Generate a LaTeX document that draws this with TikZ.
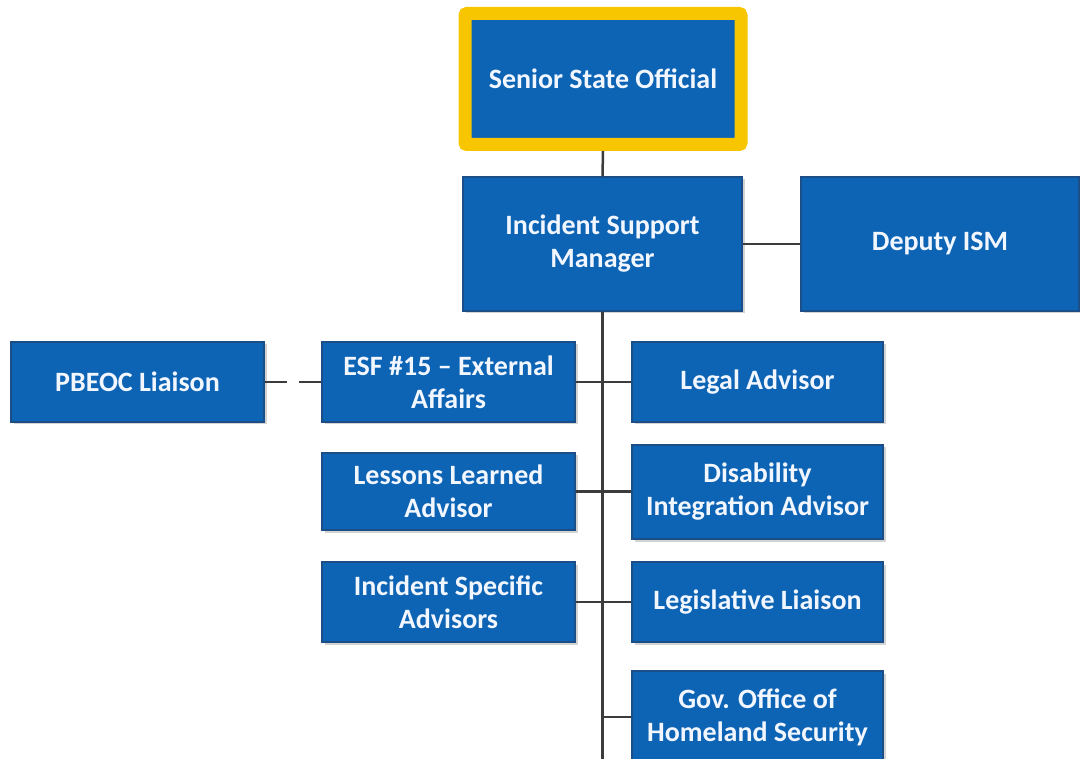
\documentclass[tikz,border=0pt]{standalone}
\usepackage{fontspec}
\setmainfont{Carlito}
\usetikzlibrary{shadows}

\definecolor{boxblue}{HTML}{0D63B4}
\definecolor{boxedge}{HTML}{1B4E86}
\definecolor{ssoyellow}{HTML}{F7C600}
\definecolor{linkgray}{HTML}{3C3C3C}
\definecolor{boxtext}{HTML}{F2F7FF}

\tikzset{
  orgbox/.style={draw=boxedge, line width=1.5pt, fill=boxblue, text=boxtext,
    font=\fontsize{28}{33}\selectfont\bfseries, align=center, inner sep=0pt,
    minimum width=253pt, minimum height=80pt,
    drop shadow={shadow xshift=2.5pt, shadow yshift=-2.5pt, opacity=0.35}},
  link/.style={draw=linkgray, line width=2.5pt},
}

\begin{document}
\begin{tikzpicture}[x=1pt, y=-1pt]
			\useasboundingbox (0,0) rectangle (1080,759);
			\clip (0,0) rectangle (1080,759);

			% top of the chart
			\node[orgbox, draw=ssoyellow, line width=13pt, rounded corners=2pt,
			  minimum width=276pt, minimum height=131pt] (sso) at (603,79) {Senior State Official};
			\node[orgbox, minimum width=279pt, minimum height=134pt] (ism) at (602.5,244) {Incident Support\\Manager};
			\node[orgbox, minimum width=278pt, minimum height=134pt] (dep) at (940,244) {Deputy ISM};

			% left column
			\node[orgbox] (pbeoc) at (137.5,382) {PBEOC Liaison};
			\node[orgbox] (esf) at (448.5,382) {ESF \#15 -- External\\Affairs};
			\node[orgbox, minimum height=77pt] (lessons) at (448.5,491.5) {Lessons Learned\\Advisor};
			\node[orgbox] (incspec) at (448.5,602) {Incident Specific\\Advisors};

			% right column
			\node[orgbox, minimum width=251pt] (legal) at (757.5,382) {Legal Advisor};
			\node[orgbox, minimum width=251pt, minimum height=94pt] (disab) at (757.5,492) {Disability\\Integration Advisor};
			\node[orgbox, minimum width=251pt] (legis) at (757.5,602) {Legislative Liaison};
			\node[orgbox, minimum width=251pt, minimum height=92pt] (gov) at (757.5,717) {Gov. Office of\\Homeland Security};

			% connectors
			\coordinate (trunkend) at (603,770);
			\draw[link] (sso.south) -- (ism.north);
			\draw[link] (ism.east) -- (dep.west);
			\draw[link] (ism.south) -- (ism.south |- trunkend);
			\draw[link] (esf.east) -- (legal.west);
			\draw[link] (lessons.east) -- (lessons.east -| legal.west);
			\draw[link] (incspec.east) -- (legis.west);
			\draw[link] (gov.west) -- (gov.west -| ism.south);
			\draw[link, dash pattern=on 22pt off 12pt] (pbeoc.east) -- (esf.west);
		\end{tikzpicture}
\end{document}
